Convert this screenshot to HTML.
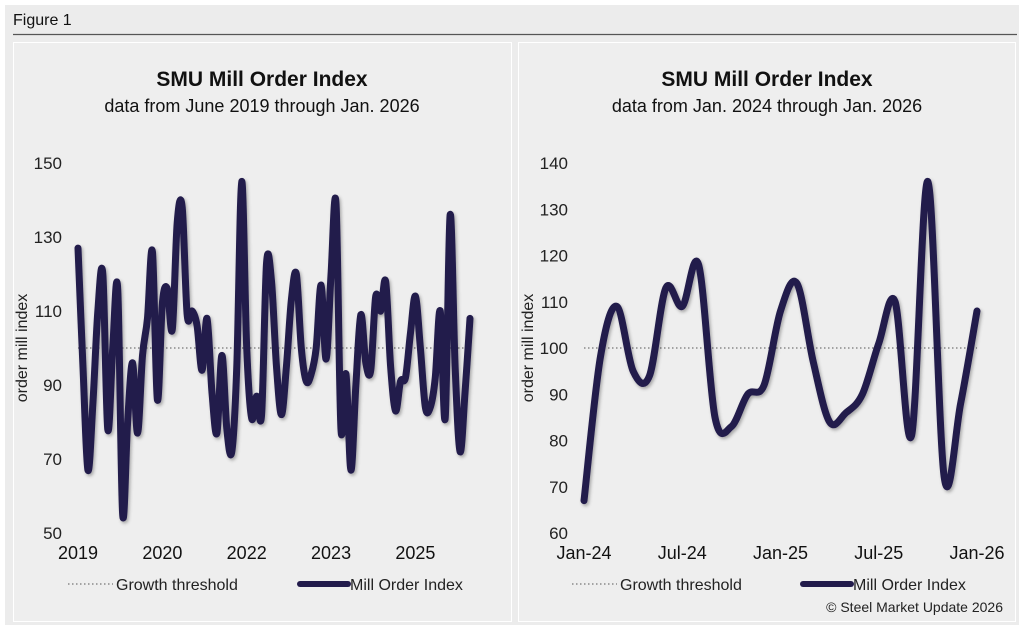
<!DOCTYPE html>
<html><head><meta charset="utf-8"><style>
body{margin:0;width:1024px;height:630px;background:#fff;font-family:"Liberation Sans",sans-serif;overflow:hidden}
#frame{position:absolute;left:5px;top:5px;width:1014px;height:620px;background:#ececec}
</style></head><body>
<div id="frame"></div>
<svg id="svg" width="1024" height="630" style="position:absolute;left:0;top:0">
<defs><filter id="sh" x="-10%" y="-10%" width="120%" height="120%"><feDropShadow dx="1.5" dy="2" stdDeviation="1.5" flood-color="#000" flood-opacity="0.3"/></filter></defs>
<text x="13" y="25" font-size="16" fill="#111">Figure 1</text>
<line x1="13" y1="34.5" x2="1017" y2="34.5" stroke="#555" stroke-width="1.2"/>
<rect x="13.5" y="42.5" width="498" height="579" fill="#eeeeee" stroke="#fff"/>
<rect x="518.5" y="42.5" width="497" height="579" fill="#eeeeee" stroke="#fff"/>
<g id="L"></g><g id="R"></g>
</svg>
<script>
const leftValues=[127,95,67,85,110,120,78,100,116,55,80,96,77,98,108,126,86,112,116,105,134,138,109,110,106,94,108,88,77,98,78,72,95,145,100,81,87,82,123,118,95,82,95,113,120,100,91,93,100,117,97,120,139,78,93,67,90,109,96,94,114,110,118,95,83,91,92,104,114,100,84,84,92,110,81,136,95,72,88,108];
const leftTicks=[50,70,90,110,130,150];
const leftXLabels=["2019","2020","2022","2023","2025"];
const leftXLabelIdx=[0,17,34,51,68];
const rightValues=[67,98,109,95,94,113,109,118,85,83,90,92,108,114,97,84,86,90,101,110,81,136,72,88,108];
const rightTicks=[60,70,80,90,100,110,120,130,140];
const rightXLabels=["Jan-24","Jul-24","Jan-25","Jul-25","Jan-26"];
const rightXLabelIdx=[0,6,12,18,24];
const threshold=100;
const NS="http://www.w3.org/2000/svg";
function mk(p,t,a,txt){const e=document.createElementNS(NS,t);for(const k in a)e.setAttribute(k,a[k]);if(txt!==undefined)e.textContent=txt;p.appendChild(e);return e;}
function path(pts){let d="M"+pts[0][0]+","+pts[0][1];for(let i=0;i<pts.length-1;i++){const p0=pts[Math.max(0,i-1)],p1=pts[i],p2=pts[i+1],p3=pts[Math.min(pts.length-1,i+2)];const t=1/3;d+=" C"+(p1[0]+(p2[0]-p0[0])*t/2)+","+(p1[1]+(p2[1]-p0[1])*t/2)+" "+(p2[0]-(p3[0]-p1[0])*t/2)+","+(p2[1]-(p3[1]-p1[1])*t/2)+" "+p2[0]+","+p2[1];}return d;}
function chart(g,o){
 const {cx,x0,x1,yTop,yBot,vmin,vmax,vals,ticks,xl,xi,sub,copy,lg}=o;
 const X=i=>x0+(x1-x0)*i/(vals.length-1);
 const Y=v=>yBot-(v-vmin)/(vmax-vmin)*(yBot-yTop);
 let e=mk(g,"text",{x:cx,y:86,"text-anchor":"middle","font-size":"21","font-weight":"bold",fill:"#111"},"SMU Mill Order Index");
 
 e=mk(g,"text",{x:cx,y:112,"text-anchor":"middle","font-size":"18",fill:"#111"},sub);
 
 ticks.forEach(t=>{e=mk(g,"text",{x:x0-16,y:Y(t)+6,"text-anchor":"end","font-size":"17",fill:"#222"},t);
  });
 xl.forEach((l,k)=>{e=mk(g,"text",{x:X(xi[k]),y:559,"text-anchor":"middle","font-size":"18",fill:"#111"},l);
  });
 e=mk(g,"text",{x:0,y:0,transform:"translate("+(x0-51)+","+((yTop+yBot)/2)+") rotate(-90)","text-anchor":"middle","font-size":"16",fill:"#222"},"order mill index");
 
 e=mk(g,"line",{x1:x0,x2:x1,y1:Y(threshold),y2:Y(threshold),stroke:"#888","stroke-width":1.5,"stroke-dasharray":"1.5,2.5"});
 
 const pts=vals.map((v,i)=>[X(i),Y(v)]);
 e=mk(g,"path",{d:path(pts),fill:"none",stroke:"#221b4b","stroke-width":7,"stroke-linejoin":"round","stroke-linecap":"round",filter:"url(#sh)"});
 
 e=mk(g,"line",{x1:lg[0],x2:lg[0]+45,y1:584,y2:584,stroke:"#888","stroke-width":1.5,"stroke-dasharray":"1.5,2.5"});
 
 e=mk(g,"text",{x:lg[0]+48,y:590,"font-size":"16",fill:"#222"},"Growth threshold");
 
 e=mk(g,"line",{x1:lg[1],x2:lg[1]+48,y1:584,y2:584,stroke:"#221b4b","stroke-width":6,"stroke-linecap":"round"});
 
 e=mk(g,"text",{x:lg[1]+50,y:590,"font-size":"16",fill:"#222"},"Mill Order Index");
 
 if(copy){e=mk(g,"text",{x:1003,y:612,"text-anchor":"end","font-size":"14",fill:"#222"},"© Steel Market Update 2026");
  }
}
chart(document.getElementById("L"),{cx:262,x0:78,x1:470,yTop:163,yBot:533,vmin:50,vmax:150,vals:leftValues,ticks:leftTicks,xl:leftXLabels,xi:leftXLabelIdx,sub:"data from June 2019 through Jan. 2026",lg:[68,300]});
chart(document.getElementById("R"),{cx:767,x0:584,x1:977,yTop:163,yBot:533,vmin:60,vmax:140,vals:rightValues,ticks:rightTicks,xl:rightXLabels,xi:rightXLabelIdx,sub:"data from Jan. 2024 through Jan. 2026",copy:true,lg:[572,803]});
</script>
</body></html>
